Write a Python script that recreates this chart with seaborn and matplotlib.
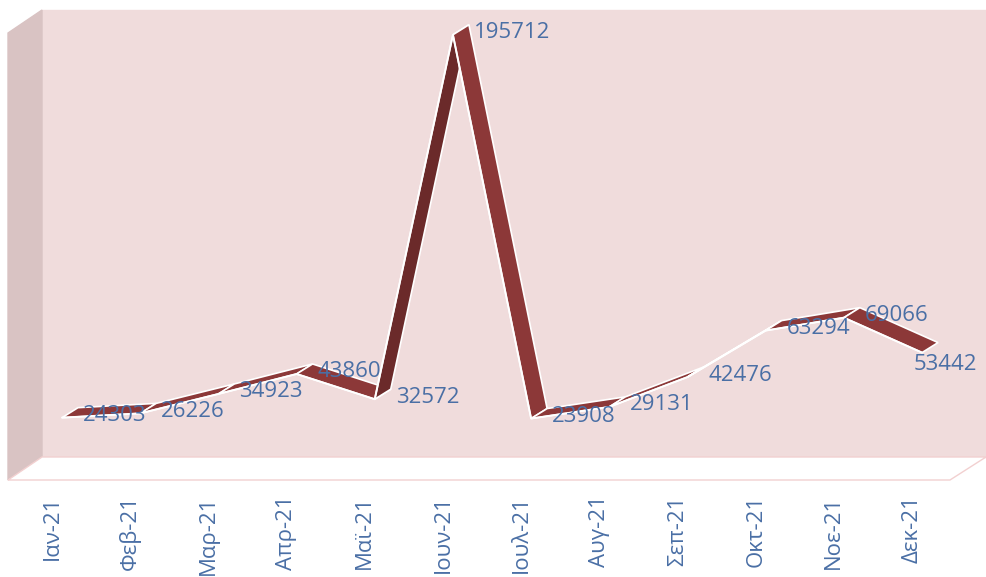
import numpy as np
import seaborn as sns
import matplotlib.pyplot as plt
from matplotlib.patches import Polygon

months = ["Ιαν-21", "Φεβ-21", "Μαρ-21", "Απρ-21", "Μαϊ-21", "Ιουν-21",
          "Ιουλ-21", "Αυγ-21", "Σεπ-21", "Οκτ-21", "Νοε-21", "Δεκ-21"]
values = [24303, 26226, 34923, 43860, 32572, 195712,
          23908, 29131, 42476, 63294, 69066, 53442]

W, H = 986, 577
sns.set_theme(style="white")
plt.rcParams['font.family'] = ['Open Sans', 'DejaVu Sans']

fig = plt.figure(figsize=(W / 100, H / 100), dpi=100)
fig.patch.set_facecolor("white")

# axes covers the back wall + floor area (pixels 42..986 x 10..480)
ax = fig.add_axes([42 / W, 1 - 480 / H, (986 - 42) / W, (480 - 10) / H])
ax.set_facecolor("none")
ax.set_xlim(-0.256, 11.818)
ax.set_ylim(-3600, 206800)
for s in ax.spines.values():
    s.set_visible(False)


def fp(x, y):
    return (x / W, 1 - y / H)


deco = [
    ([(42, 10), (986, 10), (986, 457), (42, 457)], "#f0dcdc", "#f0dcdc"),   # back wall
    ([(8, 33), (42, 10), (42, 457), (8, 480)], "#d9c3c3", "#d9c3c3"),      # side wall
    ([(8, 480), (42, 457), (986, 457), (950, 480)], "white", "#f2d0d0"),    # floor
]
for pts, fc, ec in deco:
    ax.add_patch(Polygon([fp(*p) for p in pts], closed=True, facecolor=fc,
                         edgecolor=ec, lw=1, transform=fig.transFigure,
                         clip_on=False, zorder=0))

# ribbon depth in data units (about 16 px right, 10 px up)
x = np.arange(len(values))
xr = ax.get_xlim()[1] - ax.get_xlim()[0]
yr = ax.get_ylim()[1] - ax.get_ylim()[0]
dx = 16 * xr / 944
dy = 10 * yr / 470

for i in range(len(values) - 1):
    x0, x1 = x[i], x[i + 1]
    y0, y1 = values[i], values[i + 1]
    steep_up = (y1 - y0) > 50000
    col = "#6b2a2a" if steep_up else "#8c3838"
    ax.fill([x0, x1, x1 + dx, x0 + dx], [y0, y1, y1 + dy, y0 + dy],
            facecolor=col, edgecolor="white", lw=1.2, zorder=3)

sns.lineplot(x=x, y=values, color="white", lw=1.4, ax=ax, zorder=4)

label_col = "#4a6fa5"
for i, v in enumerate(values):
    if i == len(values) - 1:
        ax.annotate(str(v), (x[i], v), xytext=(23, -12), textcoords="offset pixels",
                    ha="center", va="center", fontsize=16, color=label_col, zorder=5)
    else:
        ax.annotate(str(v), (x[i], v), xytext=(21, 2), textcoords="offset pixels",
                    ha="left", va="center", fontsize=16, color=label_col, zorder=5)

tick_pos = x - 0.128
ax.set_xticks(tick_pos)
ax.set_xticklabels(months, rotation=90, fontsize=16, color=label_col)
ax.tick_params(axis="x", length=0, pad=11)
ax.set_yticks([])
ax.set_xlabel("")
ax.set_ylabel("")

fig.savefig("out.png", dpi=100)
